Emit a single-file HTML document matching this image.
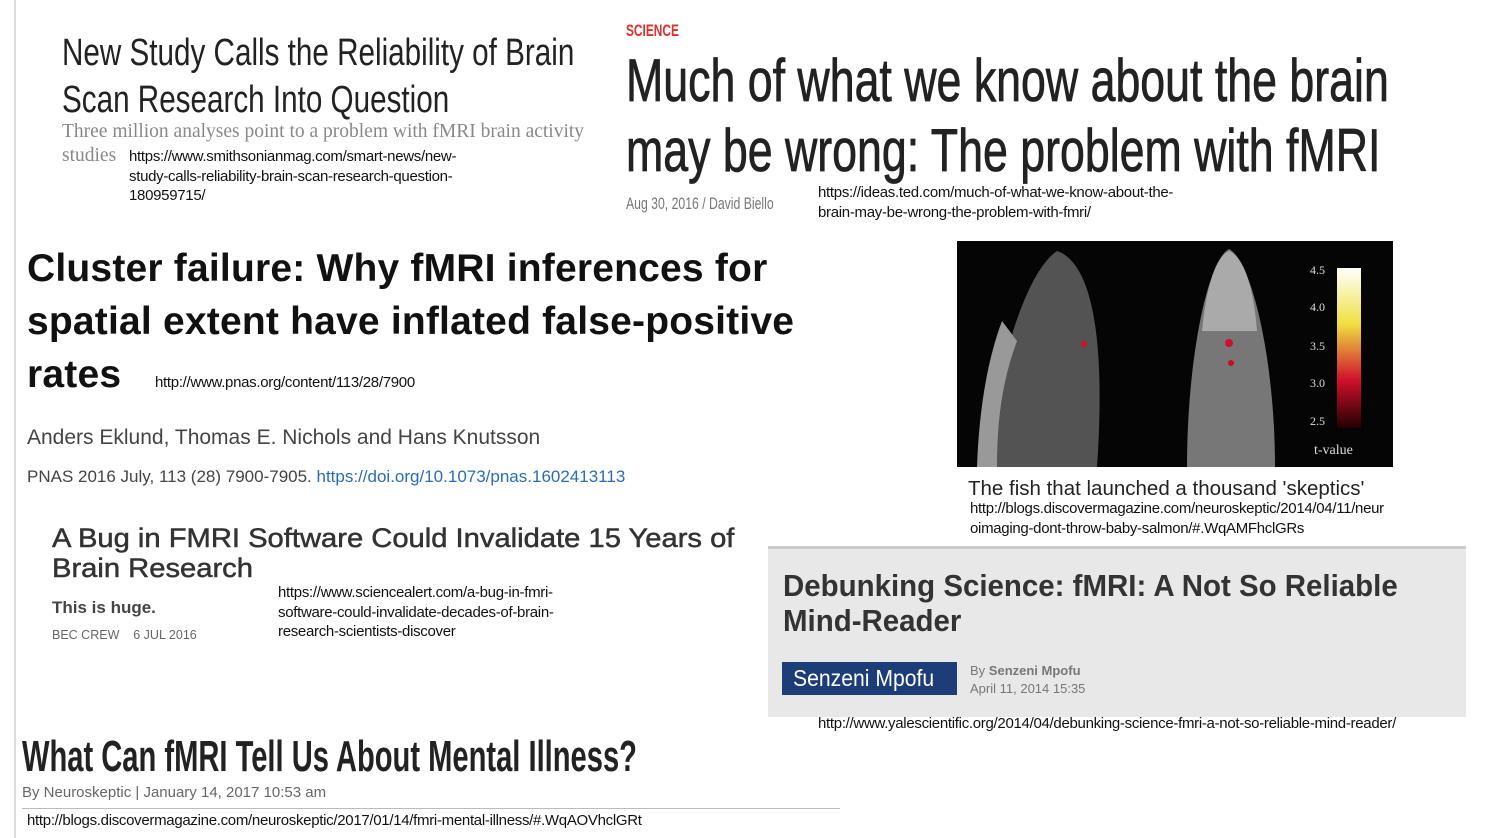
<!DOCTYPE html>
<html><head><meta charset="utf-8"><style>
body{margin:0;width:1486px;height:838px;background:#fff;position:relative;overflow:hidden;font-family:"Liberation Sans",sans-serif}
.a{position:absolute;white-space:nowrap}
.c{transform-origin:0 0;display:inline-block}
.url{font-size:15px;color:#111;line-height:19.5px;letter-spacing:-0.3px}
</style></head><body>
<div class="a" style="left:14px;top:0;width:2px;height:838px;background:#ddd"></div>

<div class="a" style="left:62px;top:30px;font-size:38px;color:#222;line-height:47px"><span class="c" style="transform:scaleX(0.78)">New Study Calls the Reliability of Brain<br>Scan Research Into Question</span></div>
<div class="a" style="left:62px;top:120px;font-family:'Liberation Serif',serif;font-size:19.5px;color:#888;line-height:24px">Three million analyses point to a problem with fMRI brain activity<br>studies</div>
<div class="a url" style="left:129px;top:147px">https://www.smithsonianmag.com/smart-news/new-<br>study-calls-reliability-brain-scan-research-question-<br>180959715/</div>

<div class="a" style="left:626px;top:21px;font-size:17px;color:#e0302a;font-weight:bold"><span class="c" style="transform:scaleX(0.7)">SCIENCE</span></div>
<div class="a" style="left:626px;top:46px;font-size:60px;color:#222;line-height:70px;-webkit-text-stroke:0.8px #222"><span class="c" style="transform:scaleX(0.745)">Much of what we know about the brain<br>may be wrong: The problem with fMRI</span></div>
<div class="a" style="left:626px;top:194px;font-size:17px;color:#777"><span class="c" style="transform:scaleX(0.72)">Aug 30, 2016 / David Biello</span></div>
<div class="a url" style="left:818px;top:183px">https://ideas.ted.com/much-of-what-we-know-about-the-<br>brain-may-be-wrong-the-problem-with-fmri/</div>

<div class="a" style="left:27px;top:242px;font-size:39px;font-weight:bold;color:#111;line-height:53px;letter-spacing:0.2px">Cluster failure: Why fMRI inferences for<br>spatial extent have inflated false-positive<br>rates</div>
<div class="a url" style="left:155px;top:373px">http://www.pnas.org/content/113/28/7900</div>
<div class="a" style="left:27px;top:426px;font-size:21px;color:#444">Anders Eklund, Thomas E. Nichols and Hans Knutsson</div>
<div class="a" style="left:27px;top:467px;font-size:17px;color:#444">PNAS 2016 July, 113 (28) 7900-7905. <span style="color:#2a6db5">https://doi.org/10.1073/pnas.1602413113</span></div>

<div class="a" style="left:957px;top:241px;width:436px;height:226px;background:#050505">
<svg width="436" height="226">
<defs><linearGradient id="g" x1="0" y1="0" x2="0" y2="1"><stop offset="0" stop-color="#fff"/><stop offset="0.35" stop-color="#f0e040"/><stop offset="0.7" stop-color="#d0102a"/><stop offset="1" stop-color="#200"/></linearGradient></defs>
<path d="M30 226 C40 120 70 30 100 10 C130 20 150 80 140 226 Z" fill="#666" opacity="0.8"/>
<path d="M20 226 C22 170 30 120 45 80 L60 100 C45 140 40 180 40 226Z" fill="#999"/>
<path d="M230 226 C230 120 250 20 272 8 C295 20 318 120 318 226 Z" fill="#777"/>
<path d="M245 90 C250 40 260 15 272 10 C285 15 296 40 300 90 Z" fill="#aaa"/>
<circle cx="127" cy="103" r="3" fill="#d0102a"/><circle cx="272" cy="102" r="4" fill="#d0102a"/><circle cx="274" cy="122" r="3" fill="#c01020"/>
<rect x="380" y="27" width="24" height="160" fill="url(#g)"/>
<g font-family="Liberation Serif" font-size="12" fill="#ddd"><text x="353" y="33">4.5</text><text x="353" y="70">4.0</text><text x="353" y="109">3.5</text><text x="353" y="146">3.0</text><text x="353" y="184">2.5</text><text x="357" y="213" font-size="14">t-value</text></g>
</svg></div>
<div class="a" style="left:968px;top:477px;font-size:20.5px;color:#222">The fish that launched a thousand 'skeptics'</div>
<div class="a url" style="left:970px;top:499px">http://blogs.discovermagazine.com/neuroskeptic/2014/04/11/neur<br>oimaging-dont-throw-baby-salmon/#.WqAMFhclGRs</div>

<div class="a" style="left:52px;top:523px;font-size:27px;color:#333;line-height:30px;-webkit-text-stroke:0.5px #333"><span class="c" style="transform:scaleX(1.08)">A Bug in FMRI Software Could Invalidate 15 Years of<br>Brain Research</span></div>
<div class="a" style="left:52px;top:598px;font-size:17px;font-weight:bold;color:#444">This is huge.</div>
<div class="a" style="left:52px;top:628px;font-size:12.5px;color:#666">BEC CREW &nbsp;&nbsp;&nbsp;6 JUL 2016</div>
<div class="a url" style="left:278px;top:583px">https://www.sciencealert.com/a-bug-in-fmri-<br>software-could-invalidate-decades-of-brain-<br>research-scientists-discover</div>

<div class="a" style="left:768px;top:546px;width:698px;height:168px;background:#e8e8e8;border-top:3px solid #ccc"></div>
<div class="a" style="left:783px;top:568px;font-size:31px;font-weight:bold;color:#333;line-height:35px"><span class="c" style="transform:scaleX(0.95)">Debunking Science: fMRI: A Not So Reliable<br>Mind-Reader</span></div>
<div class="a" style="left:782px;top:662px;width:175px;height:33px;background:#1c3d78;color:#fff;font-size:23px;line-height:33px;text-align:center"><span class="c" style="transform:scaleX(0.92)">Senzeni Mpofu</span></div>
<div class="a" style="left:970px;top:662px;font-size:13px;color:#777;line-height:18px">By <b>Senzeni Mpofu</b><br>April 11, 2014 15:35</div>
<div class="a url" style="left:818px;top:714px">http://www.yalescientific.org/2014/04/debunking-science-fmri-a-not-so-reliable-mind-reader/</div>

<div class="a" style="left:22px;top:732px;font-size:44px;font-weight:bold;color:#222"><span class="c" style="transform:scaleX(0.662)">What Can fMRI Tell Us About Mental Illness?</span></div>
<div class="a" style="left:22px;top:784px;font-size:15px;color:#666">By Neuroskeptic | January 14, 2017 10:53 am</div>
<div class="a" style="left:22px;top:808px;width:818px;height:1px;background:#bbb"></div>
<div class="a url" style="left:27px;top:811px">http://blogs.discovermagazine.com/neuroskeptic/2017/01/14/fmri-mental-illness/#.WqAOVhclGRt</div>
</body></html>
